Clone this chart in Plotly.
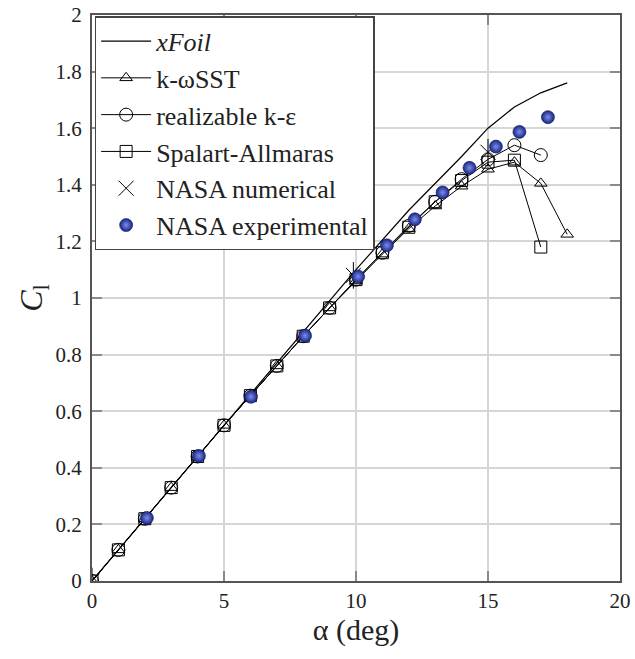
import plotly.graph_objects as go

# Angle of attack (deg)
alpha_xfoil = [0, 2, 4, 6, 8, 10, 12, 14, 15, 16, 17, 18]
cl_xfoil = [0.0, 0.22, 0.44, 0.66, 0.88, 1.10, 1.31, 1.50, 1.60, 1.675, 1.725, 1.76]

alpha_sst = [0, 1, 2, 3, 4, 5, 6, 7, 8, 9, 10, 11, 12, 13, 14, 15, 16, 17, 18]
cl_sst = [0.0, 0.11, 0.22, 0.33, 0.44, 0.55, 0.655, 0.76, 0.865, 0.965, 1.06, 1.155,
          1.245, 1.325, 1.395, 1.455, 1.48, 1.405, 1.225]

alpha_rke = [0, 1, 2, 3, 4, 5, 6, 7, 8, 9, 10, 11, 12, 13, 14, 15, 16, 17]
cl_rke = [0.0, 0.11, 0.22, 0.33, 0.44, 0.55, 0.655, 0.76, 0.865, 0.965, 1.065, 1.16,
          1.255, 1.34, 1.42, 1.49, 1.54, 1.505]

alpha_sa = [0, 1, 2, 3, 4, 5, 6, 7, 8, 9, 10, 11, 12, 13, 14, 15, 16, 17]
cl_sa = [0.0, 0.11, 0.22, 0.33, 0.44, 0.55, 0.655, 0.76, 0.865, 0.965, 1.065, 1.16,
         1.25, 1.34, 1.415, 1.48, 1.487, 1.18]

alpha_nasa_num = [0, 9.9, 15.0]
cl_nasa_num = [0.0, 1.08, 1.515]

alpha_nasa_exp = [2.08, 4.05, 6.02, 8.07, 10.08, 11.17, 12.23, 13.28, 14.3, 15.3, 16.19, 17.27]
cl_nasa_exp = [0.223, 0.442, 0.651, 0.867, 1.076, 1.186, 1.278, 1.373, 1.46, 1.535, 1.587, 1.639]

x_ticks = [0, 5, 10, 15, 20]
y_ticks = [0, 0.2, 0.4, 0.6, 0.8, 1, 1.2, 1.4, 1.6, 1.8, 2]

FONT = "Liberation Serif, Times New Roman, serif"
TEXT = "#222222"
LINE = dict(color="black", width=1)

fig = go.Figure()

fig.add_trace(go.Scatter(
    x=alpha_xfoil, y=cl_xfoil, mode="lines", name="<i>xFoil</i>",
    line=dict(color="black", width=1.2)))

fig.add_trace(go.Scatter(
    x=alpha_sst, y=cl_sst, mode="lines+markers", name="k-ωSST", line=LINE,
    marker=dict(symbol="triangle-up-open", size=11, color="black", line=dict(width=1))))

fig.add_trace(go.Scatter(
    x=alpha_rke, y=cl_rke, mode="lines+markers", name="realizable k-ε", line=LINE,
    marker=dict(symbol="circle-open", size=13, color="black", line=dict(width=1))))

fig.add_trace(go.Scatter(
    x=alpha_sa, y=cl_sa, mode="lines+markers", name="Spalart-Allmaras", line=LINE,
    marker=dict(symbol="square-open", size=12, color="black", line=dict(width=1))))

# six-ray asterisk: diagonal cross plus vertical stroke
fig.add_trace(go.Scatter(
    x=alpha_nasa_num, y=cl_nasa_num, mode="markers", name="NASA numerical",
    marker=dict(symbol="x-thin-open", size=15, color="black", line=dict(width=1, color="black"))))
fig.add_trace(go.Scatter(
    x=alpha_nasa_num, y=cl_nasa_num, mode="markers", showlegend=False,
    marker=dict(symbol="line-ns-open", size=19, color="black", line=dict(width=1, color="black"))))

fig.add_trace(go.Scatter(
    x=alpha_nasa_exp, y=cl_nasa_exp, mode="markers", name="NASA experimental",
    marker=dict(symbol="circle", size=13, color="#18268a",
                gradient=dict(type="radial", color="#7d8de6"),
                line=dict(width=0.6, color="#101850"))))

axis_common = dict(
    showgrid=True, gridcolor="#d6d6d6", gridwidth=2,
    showline=True, linecolor="#555555", linewidth=2, mirror="ticks",
    ticks="inside", ticklen=10, tickcolor="#8a8a8a", tickwidth=2,
    zeroline=False, automargin=False,
    tickfont=dict(family=FONT, size=21, color=TEXT),
)

fig.update_xaxes(range=[0, 20], tickvals=x_ticks, ticktext=[str(v) for v in x_ticks],
                 title=dict(text="α (deg)", font=dict(family=FONT, size=30, color=TEXT), standoff=6),
                 **axis_common)
fig.update_yaxes(range=[0, 2], tickvals=y_ticks, ticktext=[f"{v:g}" for v in y_ticks],
                 title=dict(text="<i>C</i><sub>l</sub>", font=dict(family=FONT, size=32, color=TEXT),
                            standoff=3),
                 ticklabelstandoff=4, **axis_common)

fig.update_layout(
    width=635, height=659,
    margin=dict(l=92, r=15, t=15, b=78),
    paper_bgcolor="white", plot_bgcolor="white",
    font=dict(family=FONT, color=TEXT),
    legend=dict(x=0.005, y=0.998, xanchor="left", yanchor="top",
                bgcolor="white", bordercolor="#444", borderwidth=1.5,
                font=dict(family=FONT, size=26, color=TEXT),
                itemwidth=50, tracegroupgap=0),
)

fig.write_html("out.html")
